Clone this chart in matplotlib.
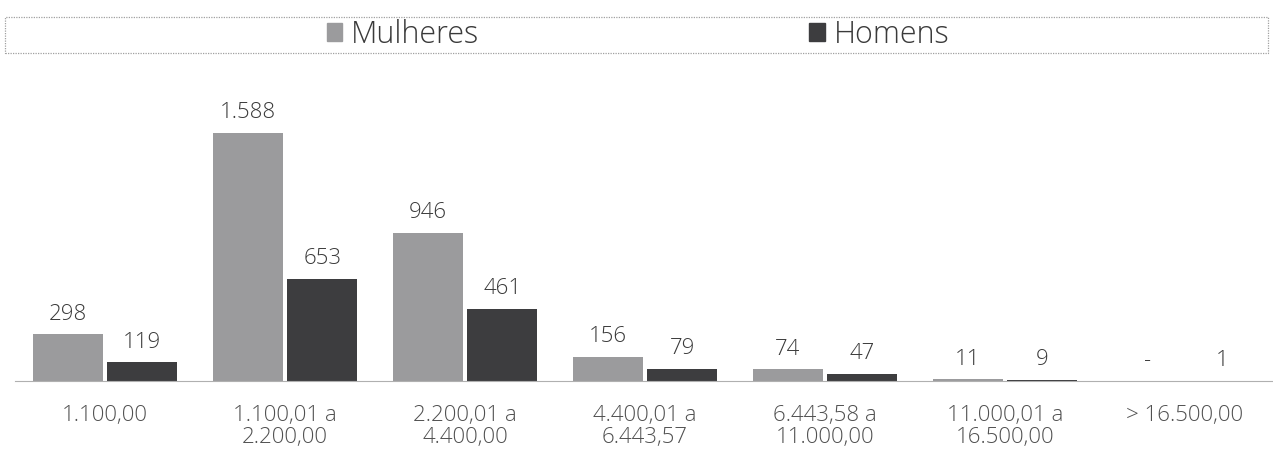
import matplotlib
matplotlib.use("Agg")
import matplotlib.pyplot as plt
import numpy as np
from matplotlib.patches import Rectangle, Patch

categories = ["1.100,00", "1.100,01 a\n2.200,00", "2.200,01 a\n4.400,00",
              "4.400,01 a\n6.443,57", "6.443,58 a\n11.000,00",
              "11.000,01 a\n16.500,00", "> 16.500,00"]
mulheres = [298, 1588, 946, 156, 74, 11, 0]
homens = [119, 653, 461, 79, 47, 9, 1]
series_names = ["Mulheres", "Homens"]

c_m = "#9b9b9d"
c_h = "#3d3d3f"
txt = "#3a3a3a"

plt.rcParams["font.family"] = ["Open Sans", "DejaVu Sans"]

fig = plt.figure(figsize=(12.73, 4.49), dpi=100)
ax = fig.add_axes([15/1273, 68/449, 1260/1273, 300/449])

x = np.arange(len(categories))
w = 0.39
off = w/2 + 0.012
bm = ax.bar(x - off, mulheres, w, color=c_m)
bh = ax.bar(x + off, homens, w, color=c_h)

def lab(v):
    if v == 0:
        return "-"
    return f"{v:,}".replace(",", ".")

for xi, v in zip(x - off, mulheres):
    ax.text(xi, v + 62, lab(v), ha="center", va="bottom", fontsize=16,
            color=txt, fontweight="light")
for xi, v in zip(x + off, homens):
    ax.text(xi, v + 62, lab(v), ha="center", va="bottom", fontsize=16,
            color=txt, fontweight="light")

ax.set_xlim(-0.5, len(categories) - 0.5)
ax.set_ylim(0, 1920)
ax.set_xticks(x)
ax.set_xticklabels(categories, fontsize=16, color="#505050",
                   linespacing=1.1, fontweight="light")
ax.tick_params(axis="x", length=0, pad=17)
ax.set_yticks([])
for s in ["top", "left", "right"]:
    ax.spines[s].set_visible(False)
ax.spines["bottom"].set_color("#b0b0b0")
ax.spines["bottom"].set_linestyle((0, (1, 1)))
ax.spines["bottom"].set_linewidth(0.8)

# legend frame
fig.patches.append(Rectangle((5/1273, 1 - 53/449), 1263/1273, 36/449,
                             transform=fig.transFigure, fill=False,
                             edgecolor="#a0a0a0", linestyle=(0, (1, 1)),
                             linewidth=0.9))
handles = [Patch(color=c_m), Patch(color=c_h)]
leg = fig.legend(handles, series_names, loc="center",
                 bbox_to_anchor=(638/1273, 1 - 35/449), ncol=2, frameon=False,
                 fontsize=22, handlelength=0.5, handleheight=0.55,
                 handletextpad=0.3, columnspacing=10.8)
for t in leg.get_texts():
    t.set_color("#3a3a3a")
    t.set_fontweight("light")

fig.savefig("out.png", dpi=100, facecolor="white")
